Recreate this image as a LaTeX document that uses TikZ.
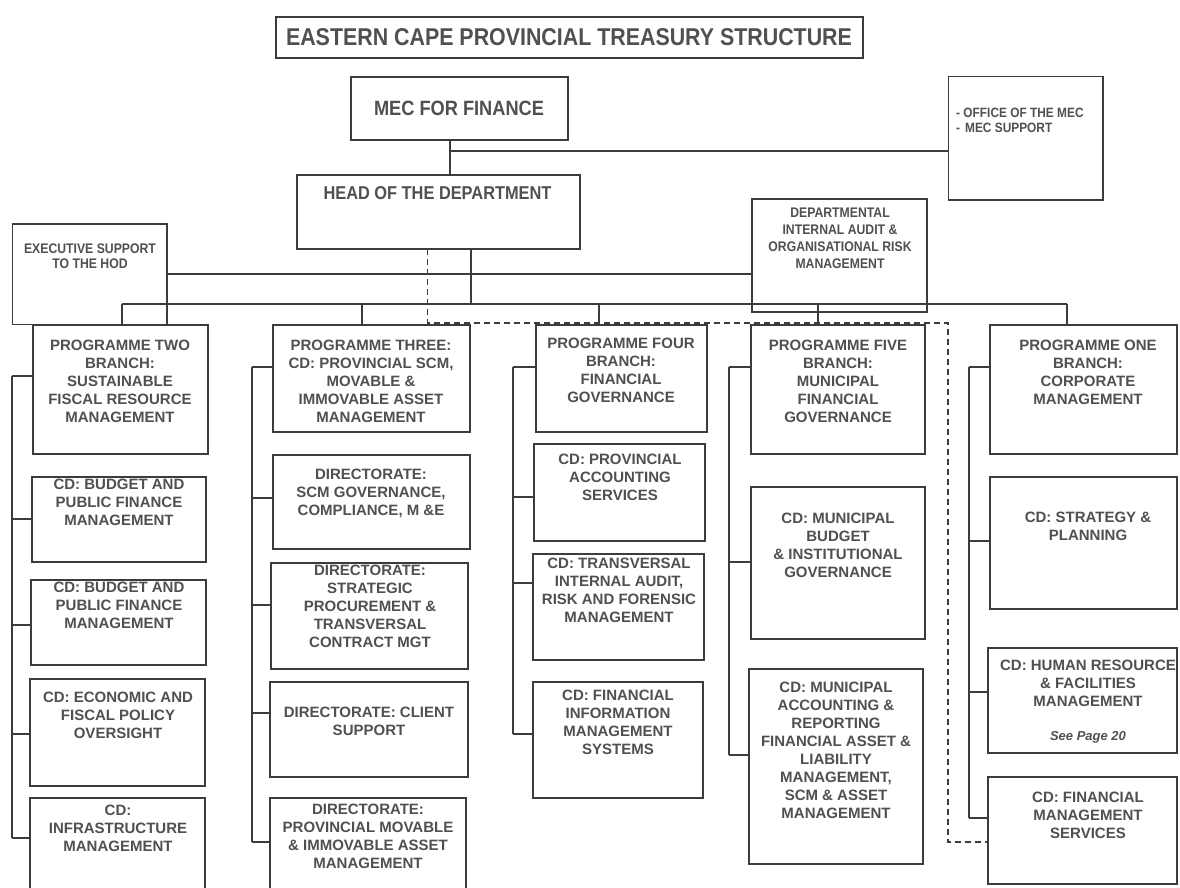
\documentclass[tikz,border=0pt]{standalone}
\usepackage{fontspec}
\setmainfont{Liberation Sans}
\newfontfamily\narrowf{Liberation Sans}[FakeStretch=0.88]
\definecolor{linec}{HTML}{3C3C3C}
\definecolor{txtc}{HTML}{505050}
\newcommand\Bx[5]{\node[box, minimum width={#4-#2}, minimum height={#5-#3}] (#1) at ({(#2+#4)/2},{(#3+#5)/2}) {};}
\newcommand\Tx[4]{\node[txt] (#1) at (#2,{#3-5.4}) {#4};}
\begin{document}
\begin{tikzpicture}[x=1pt,y=-1pt,
  box/.style={draw=linec, line width=1.2pt, inner sep=0pt, outer sep=0pt, rectangle},
  txt/.style={text=txtc, font=\bfseries\fontsize{15}{18}\selectfont, align=center, inner sep=0pt, anchor=north},
  ntxt/.style={text=txtc, inner sep=0pt},
  link/.style={draw=linec, line width=1.2pt},
  dlink/.style={draw=linec, line width=1.2pt, dash pattern=on 6pt off 4pt}]
\clip (0,0) rectangle (1180,888);
\fill[white] (0,0) rectangle (1180,888);

% ---- top part
\Bx{title}{276}{17}{863}{58}
\node[ntxt, font=\narrowf\bfseries\fontsize{24.3}{28}\selectfont] (titlet) at (569,37) {EASTERN CAPE PROVINCIAL TREASURY STRUCTURE};

\Bx{mec}{351}{77}{568}{140}
\node[ntxt, font=\narrowf\bfseries\fontsize{20.7}{24}\selectfont] (mect) at (459,108) {MEC FOR FINANCE};

\Bx{off}{948.5}{76.5}{1103}{200}
\node[ntxt, anchor=north west, align=left, font=\narrowf\bfseries\fontsize{13.5}{15}\selectfont] (offt) at (956,108) {- OFFICE OF THE MEC\\-\hspace{5pt}MEC SUPPORT};

\Bx{hod}{297}{175}{580}{249}
\node[ntxt, font=\narrowf\bfseries\fontsize{18.6}{22}\selectfont] (hodt) at (437.5,193) {HEAD OF THE DEPARTMENT};

\Bx{exe}{12.6}{224}{167}{324.5}
\node[ntxt, anchor=north, align=center, font=\narrowf\bfseries\fontsize{13.9}{15}\selectfont] (exet) at (90,244) {EXECUTIVE SUPPORT\\TO THE HOD};

\Bx{aud}{752}{199}{927}{312}
\node[ntxt, anchor=north, align=center, font=\narrowf\bfseries\fontsize{13.9}{17}\selectfont] (audt) at (840,208) {DEPARTMENTAL\\INTERNAL AUDIT \&\\ORGANISATIONAL RISK\\MANAGEMENT};

% top connectors
\coordinate (mecj) at (450,151);
\draw[link] (mecj |- mec.south) -- (mecj |- hod.north);
\draw[link] (mecj) -- (mecj -| off.west);
\coordinate (hodj) at (471,274);
\draw[link] (exe.east |- hodj) -- (aud.west |- hodj);
\coordinate (busT) at (471,304);
\draw[link] (busT |- hod.south) -- (busT);

% ---- programme boxes
\Bx{P2}{33}{325}{208}{454}
\Tx{P2t}{120}{345}{PROGRAMME TWO\\BRANCH:\\SUSTAINABLE\\FISCAL RESOURCE\\MANAGEMENT}
\Bx{B1}{32}{477}{206}{562}
\Tx{B1t}{119}{484}{CD: BUDGET AND\\PUBLIC FINANCE\\MANAGEMENT}
\Bx{B2}{31}{580}{206}{665}
\Tx{B2t}{119}{587}{CD: BUDGET AND\\PUBLIC FINANCE\\MANAGEMENT}
\Bx{EC}{30}{679}{205}{786}
\Tx{ECt}{118}{697}{CD: ECONOMIC AND\\FISCAL POLICY\\OVERSIGHT}
\Bx{IN}{30}{798}{205}{900}
\Tx{INt}{118}{810}{CD:\\INFRASTRUCTURE\\MANAGEMENT}

\Bx{P3}{273}{325}{470}{432}
\Tx{P3t}{371}{345}{PROGRAMME THREE:\\CD: PROVINCIAL SCM,\\MOVABLE \&\\IMMOVABLE ASSET\\MANAGEMENT}
\Bx{D1}{273}{455}{470}{549}
\Tx{D1t}{371}{474}{DIRECTORATE:\\SCM GOVERNANCE,\\COMPLIANCE, M \&E}
\Bx{D2}{271}{563}{468}{669}
\Tx{D2t}{370}{570}{DIRECTORATE:\\STRATEGIC\\PROCUREMENT \&\\TRANSVERSAL\\CONTRACT MGT}
\Bx{D3}{270}{682}{468}{777}
\Tx{D3t}{369}{712}{DIRECTORATE: CLIENT\\SUPPORT}
\Bx{D4}{270}{798}{466}{900}
\Tx{D4t}{368}{809}{DIRECTORATE:\\PROVINCIAL MOVABLE\\\& IMMOVABLE ASSET\\MANAGEMENT}

\Bx{P4}{536}{325}{707}{432}
\Tx{P4t}{621}{343}{PROGRAMME FOUR\\BRANCH:\\FINANCIAL\\GOVERNANCE}
\Bx{A1}{534}{444}{705}{541}
\Tx{A1t}{620}{459}{CD: PROVINCIAL\\ACCOUNTING\\SERVICES}
\Bx{A2}{533}{554}{704}{660}
\Tx{A2t}{619}{563}{CD: TRANSVERSAL\\INTERNAL AUDIT,\\RISK AND FORENSIC\\MANAGEMENT}
\Bx{A3}{533}{682}{703}{798}
\Tx{A3t}{618}{695}{CD: FINANCIAL\\INFORMATION\\MANAGEMENT\\SYSTEMS}

\Bx{P5}{751}{325}{925}{454}
\Tx{P5t}{838}{345}{PROGRAMME FIVE\\BRANCH:\\MUNICIPAL\\FINANCIAL\\GOVERNANCE}
\Bx{M1}{751}{487}{925}{639}
\Tx{M1t}{838}{518}{CD: MUNICIPAL\\BUDGET\\\& INSTITUTIONAL\\GOVERNANCE}
\Bx{M2}{749}{669}{923}{864}
\Tx{M2t}{836}{687}{CD: MUNICIPAL\\ACCOUNTING \&\\REPORTING\\FINANCIAL ASSET \&\\LIABILITY\\MANAGEMENT,\\SCM \& ASSET\\MANAGEMENT}

\Bx{P1}{990}{325}{1177}{454}
\Tx{P1t}{1088}{345}{PROGRAMME ONE\\BRANCH:\\CORPORATE\\MANAGEMENT}
\Bx{O1}{990}{477}{1177}{609}
\Tx{O1t}{1088}{517}{CD: STRATEGY \&\\PLANNING}
\Bx{O2}{988}{648}{1177}{753}
\Tx{O2t}{1088}{665}{CD: HUMAN RESOURCE\\\& FACILITIES\\MANAGEMENT}
\node[ntxt, font=\bfseries\itshape\fontsize{13}{15}\selectfont] (O2s) at (1088,737) {See Page 20};
\Bx{O3}{988}{777}{1177}{884}
\Tx{O3t}{1088}{797}{CD: FINANCIAL\\MANAGEMENT\\SERVICES}

% ---- bus to programmes
\coordinate (b2) at (122,304);
\coordinate (b3) at (362,304);
\coordinate (b4) at (599,304);
\coordinate (b5) at (818,304);
\coordinate (b1) at (1067,304);
\draw[link] (b2) -- (b1);
\draw[link] (b2) -- (b2 |- P2.north);
\draw[link] (b3) -- (b3 |- P3.north);
\draw[link] (b4) -- (b4 |- P4.north);
\draw[link] (b5) -- (b5 |- P5.north);
\draw[link] (b1) -- (b1 |- P1.north);

% ---- column spines
% column 1
\coordinate (s1a) at (12,376);
\coordinate (s1b) at (12,519);
\coordinate (s1c) at (12,625);
\coordinate (s1d) at (12,734);
\coordinate (s1e) at (12,838);
\draw[link] (s1a) -- (s1e);
\draw[link] (s1a) -- (s1a -| P2.west);
\draw[link] (s1b) -- (s1b -| B1.west);
\draw[link] (s1c) -- (s1c -| B2.west);
\draw[link] (s1d) -- (s1d -| EC.west);
\draw[link] (s1e) -- (s1e -| IN.west);
% column 2
\coordinate (s2a) at (252,367);
\coordinate (s2b) at (252,498);
\coordinate (s2c) at (252,605);
\coordinate (s2d) at (252,713);
\coordinate (s2e) at (252,842);
\draw[link] (s2a) -- (s2e);
\draw[link] (s2a) -- (s2a -| P3.west);
\draw[link] (s2b) -- (s2b -| D1.west);
\draw[link] (s2c) -- (s2c -| D2.west);
\draw[link] (s2d) -- (s2d -| D3.west);
\draw[link] (s2e) -- (s2e -| D4.west);
% column 3
\coordinate (s3a) at (513,367);
\coordinate (s3b) at (513,497);
\coordinate (s3c) at (513,583);
\coordinate (s3d) at (513,734);
\draw[link] (s3a) -- (s3d);
\draw[link] (s3a) -- (s3a -| P4.west);
\draw[link] (s3b) -- (s3b -| A1.west);
\draw[link] (s3c) -- (s3c -| A2.west);
\draw[link] (s3d) -- (s3d -| A3.west);
% column 4
\coordinate (s4a) at (729,367);
\coordinate (s4b) at (729,562);
\coordinate (s4c) at (729,755);
\draw[link] (s4a) -- (s4c);
\draw[link] (s4a) -- (s4a -| P5.west);
\draw[link] (s4b) -- (s4b -| M1.west);
\draw[link] (s4c) -- (s4c -| M2.west);
% column 5
\coordinate (s5a) at (969,367);
\coordinate (s5b) at (969,541);
\coordinate (s5c) at (969,692);
\coordinate (s5d) at (969,818);
\draw[link] (s5a) -- (s5d);
\draw[link] (s5a) -- (s5a -| P1.west);
\draw[link] (s5b) -- (s5b -| O1.west);
\draw[link] (s5c) -- (s5c -| O2.west);
\draw[link] (s5d) -- (s5d -| O3.west);

% ---- dashed reporting line
\coordinate (d1) at (427.5,323);
\coordinate (d2) at (948,323);
\coordinate (d3) at (948,842);
\draw[dlink] (d1 |- hod.south) -- (d1) -- (d2) -- (d3) -- (d3 -| O3.west);
\end{tikzpicture}
\end{document}
